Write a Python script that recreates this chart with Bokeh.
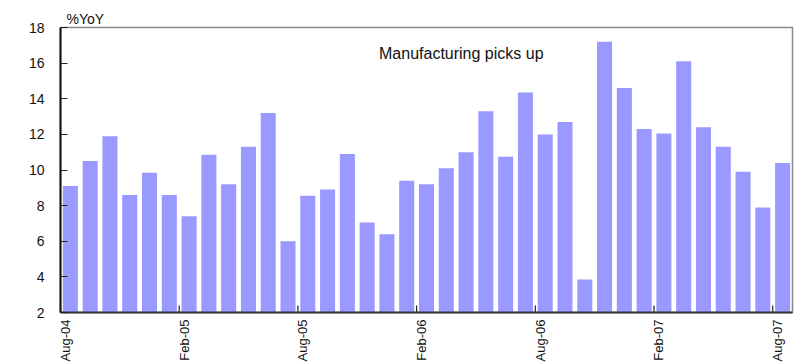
import math
from bokeh.plotting import figure
from bokeh.models import FixedTicker, Label, ColumnDataSource, Range1d
from bokeh.embed import file_html
from bokeh.resources import INLINE

months = ["Aug-04", "Sep-04", "Oct-04", "Nov-04", "Dec-04", "Jan-05", "Feb-05", "Mar-05",
          "Apr-05", "May-05", "Jun-05", "Jul-05", "Aug-05", "Sep-05", "Oct-05", "Nov-05",
          "Dec-05", "Jan-06", "Feb-06", "Mar-06", "Apr-06", "May-06", "Jun-06", "Jul-06",
          "Aug-06", "Sep-06", "Oct-06", "Nov-06", "Dec-06", "Jan-07", "Feb-07", "Mar-07",
          "Apr-07", "May-07", "Jun-07", "Jul-07", "Aug-07"]
values = [9.1, 10.5, 11.9, 8.6, 9.85, 8.6, 7.4, 10.85, 9.2, 11.3, 13.2, 6.0,
          8.55, 8.9, 10.9, 7.05, 6.4, 9.4, 9.2, 10.1, 11.0, 13.3, 10.75, 14.35,
          12.0, 12.7, 3.85, 17.2, 14.6, 12.3, 12.05, 16.1, 12.4, 11.3, 9.9, 7.9, 10.4]
label_months = ["Aug-04", "Feb-05", "Aug-05", "Feb-06", "Aug-06", "Feb-07", "Aug-07"]
y_ticks = [2, 4, 6, 8, 10, 12, 14, 16, 18]
title_text = "%YoY"
note_text = "Manufacturing picks up"

BASE = 2
idx = list(range(len(months)))
src = ColumnDataSource(dict(x=idx, top=values, month=months))

p = figure(width=800, height=364, output_backend="svg", toolbar_location=None,
           x_range=Range1d(-0.5, len(months) - 0.5), y_range=Range1d(BASE, 18),
           min_border_left=60, min_border_right=8, min_border_top=27, min_border_bottom=52)
p.title.text = title_text
p.title.align = "left"
p.title.offset = 6
p.title.standoff = 1
p.title.text_font = "Liberation Sans"
p.title.text_font_size = "14px"
p.title.text_font_style = "normal"
p.title.text_color = "#111111"

p.vbar(x="x", top="top", bottom=BASE, width=0.76, source=src,
       fill_color="#9999ff", line_color=None)

# tick marks at month boundaries (inward)
tick_pos = [months.index(m) - 0.5 for m in label_months]
p.segment(x0=tick_pos, x1=tick_pos, y0=[BASE] * len(tick_pos),
          y1=[BASE + 0.4] * len(tick_pos), line_color="#222222", line_width=1.2)

lab_pos = [months.index(m) - 0.25 for m in label_months]
p.xaxis.ticker = FixedTicker(ticks=lab_pos)
p.xaxis.major_label_overrides = {pos: m for pos, m in zip(lab_pos, label_months)}
p.xaxis.major_label_orientation = math.pi / 2
p.xaxis.major_tick_in = 0
p.xaxis.major_tick_out = 0
p.xaxis.minor_tick_in = 0
p.xaxis.minor_tick_out = 0
p.xaxis.major_label_standoff = 7
p.xaxis.major_label_text_font = "Liberation Sans"
p.xaxis.major_label_text_font_size = "13px"
p.xaxis.major_label_text_color = "#111111"
p.xaxis.axis_line_color = "#333333"
p.xaxis.axis_line_width = 2

p.yaxis.ticker = FixedTicker(ticks=y_ticks)
p.yaxis.major_tick_in = 7
p.yaxis.major_tick_out = 0
p.yaxis.minor_tick_in = 0
p.yaxis.minor_tick_out = 0
p.yaxis.major_tick_line_color = "#222222"
p.yaxis.major_label_standoff = 16
p.yaxis.major_label_text_font = "Liberation Sans"
p.yaxis.major_label_text_font_size = "14px"
p.yaxis.major_label_text_color = "#111111"
p.yaxis.axis_line_color = "#111111"
p.yaxis.axis_line_width = 2

p.xgrid.visible = False
p.ygrid.visible = False
p.outline_line_color = "#888888"
p.outline_line_width = 1.5
p.background_fill_color = "white"
p.border_fill_color = "white"

p.add_layout(Label(x=15.6, y=16.55, text=note_text, text_font="Liberation Sans",
                   text_font_size="16px", text_color="#111111", text_baseline="alphabetic"))

open("out.html", "w").write(file_html(p, INLINE))
